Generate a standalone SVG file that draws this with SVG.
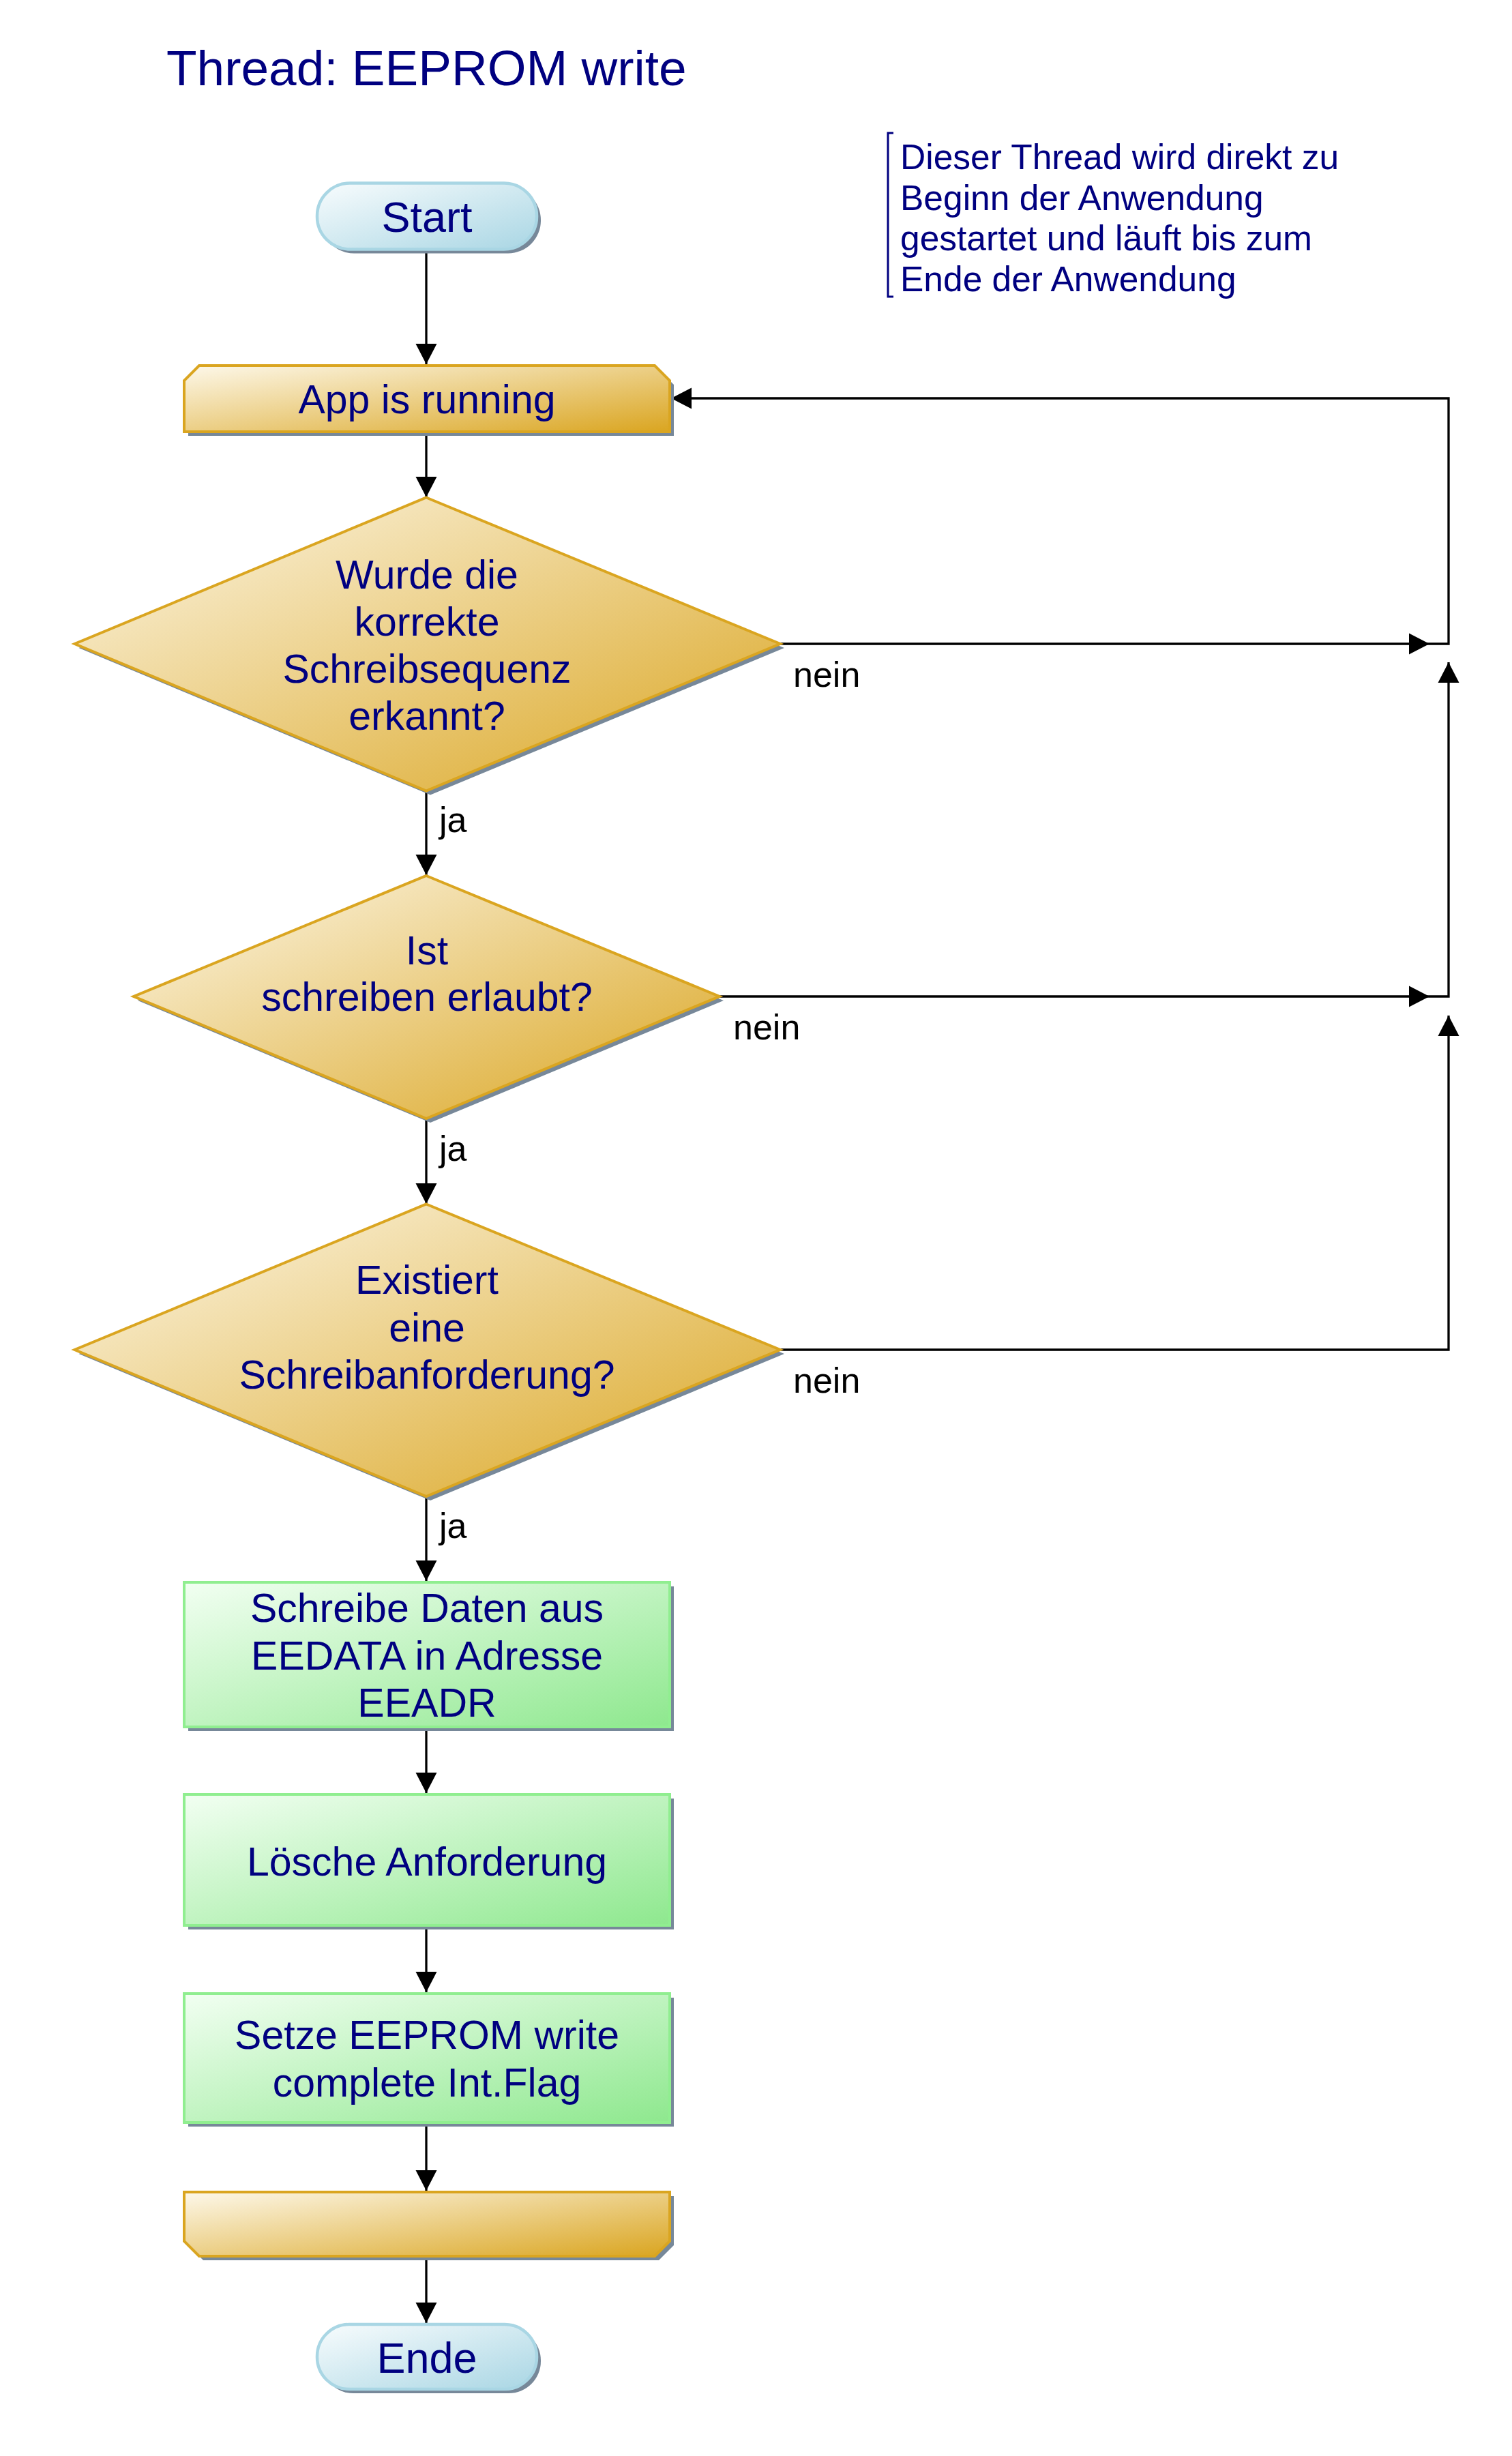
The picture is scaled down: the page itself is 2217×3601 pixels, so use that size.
<svg xmlns="http://www.w3.org/2000/svg" width="2217" height="3601" viewBox="0 0 2217 3601">
<defs>
<linearGradient id="gBlue" x1="0" y1="0" x2="1" y2="1"><stop offset="0" stop-color="#f8fcfd"/><stop offset="1" stop-color="#a9d6e4"/></linearGradient>
<linearGradient id="gGold" x1="0" y1="0" x2="1" y2="1"><stop offset="0" stop-color="#fdf8ea"/><stop offset="1" stop-color="#daa520"/></linearGradient>
<linearGradient id="gGreen" x1="0" y1="0" x2="1" y2="1"><stop offset="0" stop-color="#f2fff2"/><stop offset="1" stop-color="#8ee88e"/></linearGradient>
<marker id="arr" markerUnits="userSpaceOnUse" markerWidth="31" markerHeight="32" refX="30" refY="15.5" orient="auto" viewBox="0 0 31 31"><path d="M0,0 L30,15.5 L0,31 Z" fill="#000"/></marker>
</defs>
<style>
.t{font-family:"Liberation Sans",Arial,Helvetica,sans-serif;fill:#000080;text-anchor:middle;font-size:59px}
.se{font-size:63px}
.lbl{font-family:"Liberation Sans",Arial,Helvetica,sans-serif;fill:#000;font-size:52px}
.note{font-family:"Liberation Sans",Arial,Helvetica,sans-serif;fill:#000080;font-size:51.5px}
.sh{fill:#778899}
.blue{fill:url(#gBlue);stroke:#a9d6e4;stroke-width:4.5}
.gold{fill:url(#gGold);stroke:#daa520;stroke-width:4}
.green{fill:url(#gGreen);stroke:#90ee90;stroke-width:4}
.c{fill:none;stroke:#000;stroke-width:3.3}
</style>
<rect width="2217" height="3601" fill="#fff"/>
<text id="title" x="244" y="125" style="font-family:'Liberation Sans',Arial,sans-serif;font-size:73px;fill:#000080">Thread: EEPROM write</text>
<g id="note">
<path d="M1310,195 H1302 V435 H1310" fill="none" stroke="#000080" stroke-width="3"/>
<text class="note" x="1320" y="248">Dieser Thread wird direkt zu</text>
<text class="note" x="1320" y="307.5">Beginn der Anwendung</text>
<text class="note" x="1320" y="367">gestartet und läuft bis zum</text>
<text class="note" x="1320" y="426.5">Ende der Anwendung</text>
</g>
<g id="connectors">
<path class="c" d="M625,367 V534" marker-end="url(#arr)"/>
<path class="c" d="M625,635 V729" marker-end="url(#arr)"/>
<path class="c" d="M625,1160 V1283" marker-end="url(#arr)"/>
<path class="c" d="M625,1640 V1765" marker-end="url(#arr)"/>
<path class="c" d="M625,2194 V2318" marker-end="url(#arr)"/>
<path class="c" d="M625,2534 V2629" marker-end="url(#arr)"/>
<path class="c" d="M625,2825 V2921" marker-end="url(#arr)"/>
<path class="c" d="M625,3114 V3212" marker-end="url(#arr)"/>
<path class="c" d="M625,3310 V3406" marker-end="url(#arr)"/>
<path class="c" d="M1144,944 H2096" marker-end="url(#arr)"/>
<path class="c" d="M1055,1461 H2096" marker-end="url(#arr)"/>
<path class="c" d="M1144,1979 H2124 V1489" marker-end="url(#arr)"/>
<path class="c" d="M2096,1461 H2124 V971" marker-end="url(#arr)"/>
<path class="c" d="M2096,944 H2124 V584 H984" marker-end="url(#arr)"/>
<text class="lbl" x="644" y="1220">ja</text>
<text class="lbl" x="644" y="1702">ja</text>
<text class="lbl" x="644" y="2255">ja</text>
<text class="lbl" x="1163" y="1007">nein</text>
<text class="lbl" x="1075" y="1524">nein</text>
<text class="lbl" x="1163" y="2042">nein</text>
</g>
<g id="start">
<rect class="sh" x="471" y="274.5" width="322" height="97" rx="48"/>
<rect class="blue" x="465" y="268.5" width="322" height="97" rx="48"/>
<text class="t se" x="626" y="340">Start</text>
</g>
<g id="app">
<path class="sh" d="M298,542 H966 L988,564 V639 H276 V564 Z"/>
<path class="gold" d="M292,536 H960 L982,558 V633 H270 V558 Z"/>
<text class="t" x="626" y="606">App is running</text>
</g>
<g id="d1">
<path class="sh" d="M631,735.5 L1150,950 L631,1165.5 L115.5,950 Z"/>
<path class="gold" d="M625,729.5 L1144,944 L625,1159.5 L109.5,944 Z"/>
<text class="t" x="626" y="863">Wurde die</text>
<text class="t" x="626" y="932">korrekte</text>
<text class="t" x="626" y="1001">Schreibsequenz</text>
<text class="t" x="626" y="1070">erkannt?</text>
</g>
<g id="d2">
<path class="sh" d="M631,1290 L1061,1467 L631,1646 L202,1467 Z"/>
<path class="gold" d="M625,1284 L1055,1461 L625,1640 L196,1461 Z"/>
<text class="t" x="626" y="1414">Ist</text>
<text class="t" x="626" y="1482">schreiben erlaubt?</text>
</g>
<g id="d3">
<path class="sh" d="M631,1771.5 L1150,1985 L631,2200 L115.5,1985 Z"/>
<path class="gold" d="M625,1765.5 L1144,1979 L625,2194 L109.5,1979 Z"/>
<text class="t" x="626" y="1897">Existiert</text>
<text class="t" x="626" y="1966.5">eine</text>
<text class="t" x="626" y="2036">Schreibanforderung?</text>
</g>
<g id="b1">
<rect class="sh" x="276" y="2326" width="712" height="212"/>
<rect class="green" x="270" y="2320" width="712" height="212"/>
<text class="t" x="626" y="2378">Schreibe Daten aus</text>
<text class="t" x="626" y="2447.5">EEDATA in Adresse</text>
<text class="t" x="626" y="2517">EEADR</text>
</g>
<g id="b2">
<rect class="sh" x="276" y="2637" width="712" height="192"/>
<rect class="green" x="270" y="2631" width="712" height="192"/>
<text class="t" x="626" y="2750">Lösche Anforderung</text>
</g>
<g id="b3">
<rect class="sh" x="276" y="2929" width="712" height="189"/>
<rect class="green" x="270" y="2923" width="712" height="189"/>
<text class="t" x="626" y="3004">Setze EEPROM write</text>
<text class="t" x="626" y="3074">complete Int.Flag</text>
</g>
<g id="loopend">
<path class="sh" d="M276,3220 H988 V3292 L966,3314 H298 L276,3292 Z"/>
<path class="gold" d="M270,3214 H982 V3286 L960,3308 H292 L270,3286 Z"/>
</g>
<g id="ende">
<rect class="sh" x="471" y="3414" width="322" height="95" rx="47"/>
<rect class="blue" x="465" y="3408" width="322" height="95" rx="47"/>
<text class="t se" x="626" y="3479">Ende</text>
</g>
</svg>
